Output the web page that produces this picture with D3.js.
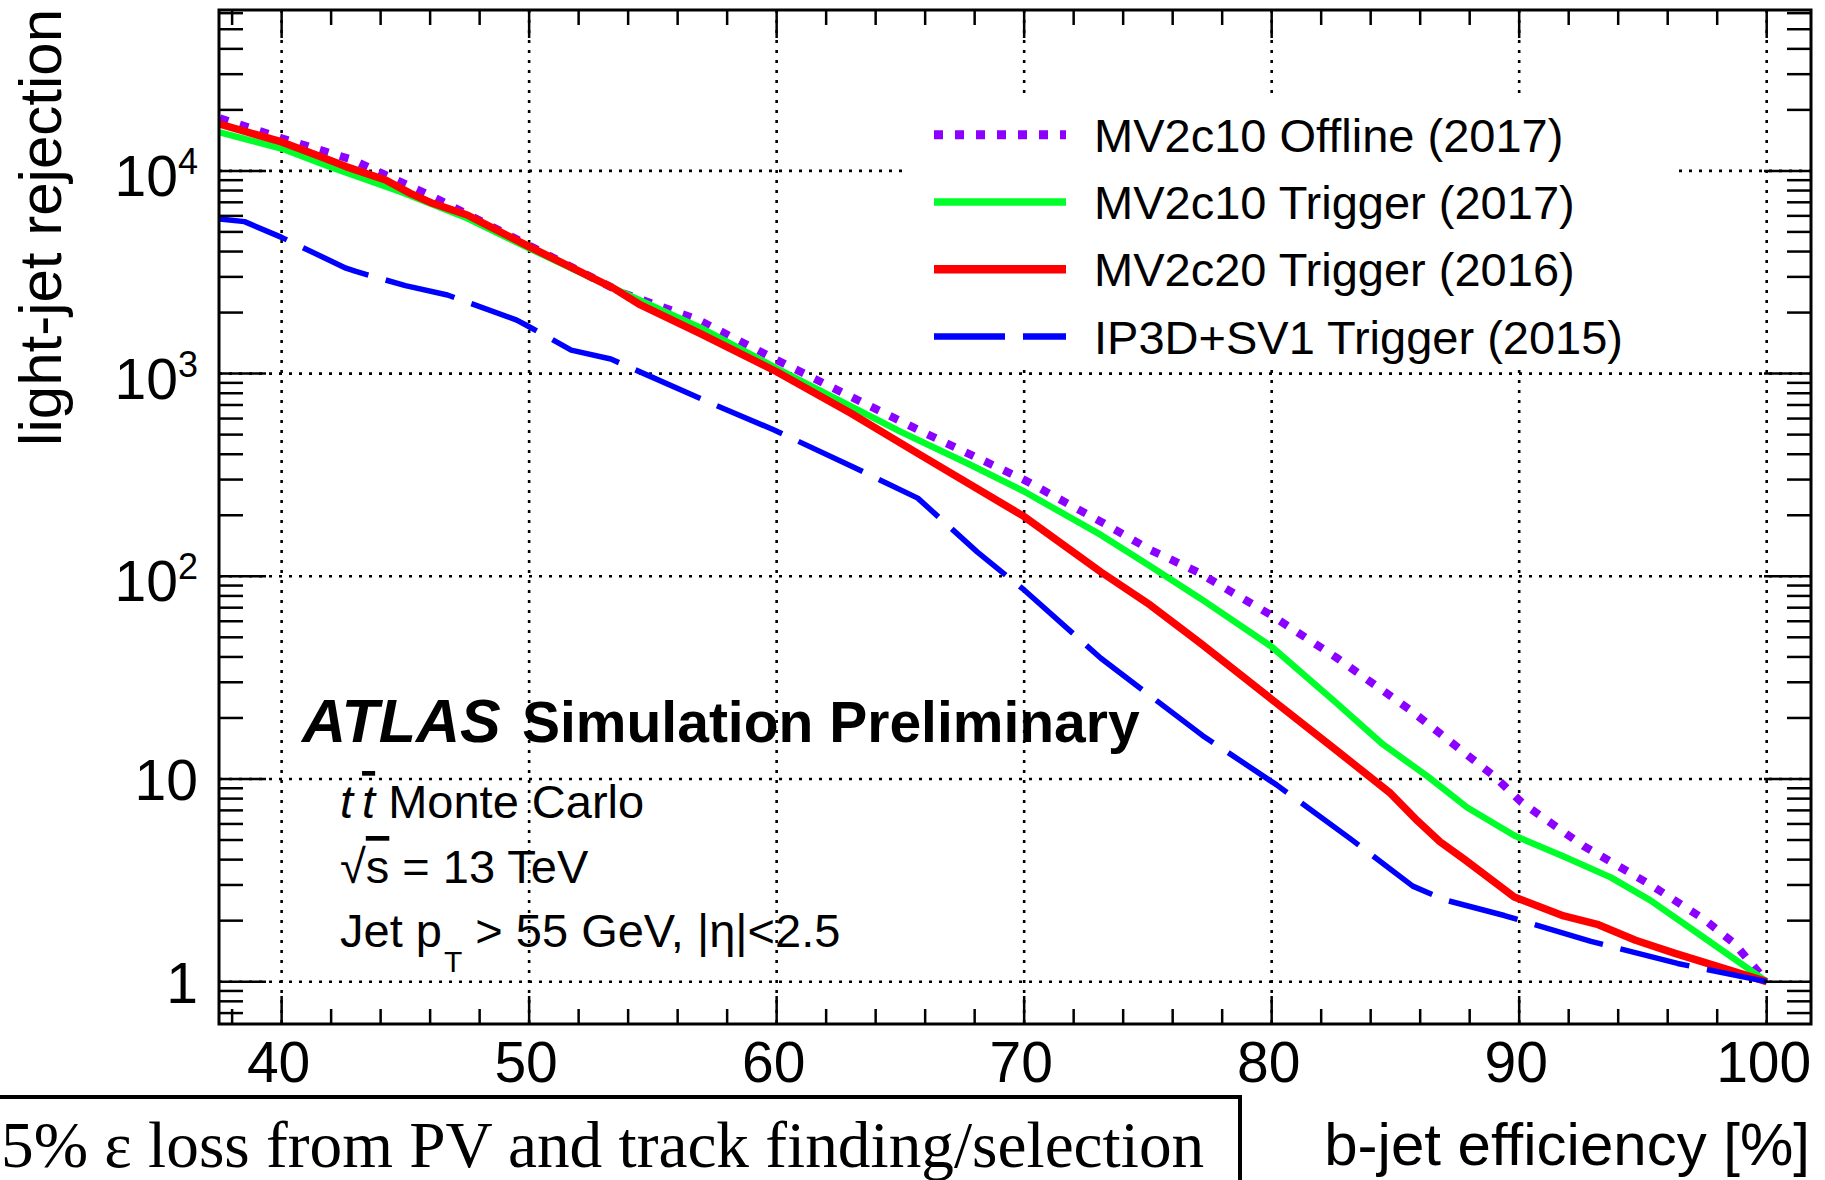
<!DOCTYPE html>
<html><head><meta charset="utf-8">
<script src="https://cdn.jsdelivr.net/npm/d3@7"></script>
<style>body{margin:0;background:#fff}svg{display:block}</style>
</head><body>
<svg id="chart" width="1825" height="1180"></svg>
<script>
// ---- data (b-jet efficiency [%], light-jet rejection) ----
const effOffline = [37.5,40,42.9,46.1,49.7,53.8,56.8,60,63,66,70,73.1,75.1,77,80,82.6,85.6,89,90.1,92.6,95.3,97.5,98.7,100];
const rejOffline = [18200,14500,11300,7460,4475,2490,1850,1167,769,508,299,186,135,105,64.1,39.8,21.9,10.3,7.66,4.67,3.01,2.02,1.54,1];

const effTrig17 = [37.5,40,42.1,44.8,47.5,50,53.4,56.9,60,65,67.7,70,73.1,75.1,77.1,80,82.6,84.5,86.3,87.9,89.8,91.8,93.7,95.3,97.4,100];
const rejTrig17 = [15500,12900,10300,7890,5840,4150,2640,1690,1062,517,361,262,160,112,78,44.9,23.8,14.8,10.3,7.23,5.26,4.14,3.27,2.52,1.67,1];

const effTrig16 = [37.5,40,41.4,42.6,44.2,45.2,46.1,47.5,48.3,50,51.5,53.4,54.5,56.9,60,63,65.7,70,73.1,75.1,77.1,80,82.6,84.8,85.9,86.8,87.8,89.8,91.8,93.2,94.7,96.3,100];
const rejTrig16 = [17000,13900,11970,10500,9020,7750,6920,6060,5400,4230,3440,2640,2180,1580,1021,637,404,197,105,72,47,24.7,13.9,8.5,6.2,4.9,4.0,2.62,2.11,1.91,1.60,1.38,1];

const effTrig15 = [37.5,38.5,40,42.6,43,45,46.7,49.5,50,51.7,53.3,56.6,57.3,59.9,63.2,65.7,68.1,70,73.1,75.1,77.2,80.2,83.2,85.7,87,89.4,92.9,96.4,100];
const rejTrig15 = [5790,5620,4700,3310,3190,2716,2443,1837,1703,1306,1180,784,719,527,341,243,132,85.6,39.4,25.7,16.4,9.35,5.05,2.96,2.53,2.12,1.58,1.23,1];

const seriesNames = ["MV2c10 Offline (2017)","MV2c10 Trigger (2017)","MV2c20 Trigger (2016)","IP3D+SV1 Trigger (2015)"];
const seriesColors = ["#8c00ff","#00ff2a","#ff0000","#0000ff"];

const xTickValues = [40,50,60,70,80,90,100];
const xTickLabels = ["40","50","60","70","80","90","100"];
const yTickValues = [1,10,100,1000,10000];
const yTickBase = ["1","10","10","10","10"];
const yTickExp = ["","","2","3","4"];

// ---- layout ----
const L = 219, R = 1811, T = 10, B = 1024;
const svg = d3.select("#chart");
const sans = "'Liberation Sans', Arial, Helvetica, sans-serif";
const serif = "'Liberation Serif', 'Times New Roman', serif";

const x = d3.scaleLinear().domain([37.47, 101.79]).range([L, R]);
const y = d3.scaleLog().domain([0.6183, 62200]).range([B, T]);

svg.append("rect").attr("width",1825).attr("height",1180).attr("fill","#fff");

// grid (dotted)
const grid = svg.append("g").attr("stroke","#000").attr("stroke-width",2.6).attr("stroke-dasharray","3 7");
grid.selectAll(".gx").data(xTickValues).join("line")
  .attr("x1",d=>x(d)).attr("x2",d=>x(d)).attr("y1",T).attr("y2",B);
grid.selectAll(".gy").data(yTickValues).join("line")
  .attr("x1",L).attr("x2",R).attr("y1",d=>y(d)).attr("y2",d=>y(d));

// clip
svg.append("clipPath").attr("id","clip").append("rect").attr("x",L).attr("y",T).attr("width",R-L).attr("height",B-T);

const line = d3.line().x(d=>x(d[0])).y(d=>y(d[1]));
const curves = [
  {e:effOffline, r:rejOffline, w:8,   dash:"9 12"},
  {e:effTrig17,  r:rejTrig17,  w:6.5, dash:null},
  {e:effTrig16,  r:rejTrig16,  w:7.5, dash:null},
  {e:effTrig15,  r:rejTrig15,  w:5.5, dash:"71 18"}
];
const gc = svg.append("g").attr("clip-path","url(#clip)");
curves.forEach((c,i)=>{
  const pts = c.e.map((v,j)=>[v,c.r[j]]);
  const p = gc.append("path").datum(pts).attr("d",line).attr("fill","none")
    .attr("stroke",seriesColors[i]).attr("stroke-width",c.w).attr("stroke-linejoin","round");
  if(c.dash) p.attr("stroke-dasharray",c.dash);
});

// legend (white box hides grid)
const lg = svg.append("g");
lg.append("rect").attr("x",902).attr("y",98).attr("width",770).attr("height",266).attr("fill","#fff");
const legY = [134.7,202,269.3,336.6];
seriesNames.forEach((n,i)=>{
  const c = curves[i];
  const ln = lg.append("line").attr("x1",934).attr("x2",1066).attr("y1",legY[i]).attr("y2",legY[i])
    .attr("stroke",seriesColors[i]).attr("stroke-width",c.w+1);
  if(c.dash) ln.attr("stroke-dasharray",c.dash);
  lg.append("text").attr("x",1094).attr("y",legY[i]+17).attr("font-family",sans).attr("font-size",47).text(n);
});

// frame
svg.append("rect").attr("x",L).attr("y",T).attr("width",R-L).attr("height",B-T)
  .attr("fill","none").attr("stroke","#000").attr("stroke-width",3);

// x ticks (bottom & top)
const xt = svg.append("g").attr("stroke","#000").attr("stroke-width",2.5);
const xMinor = d3.range(38,101.5,2);
xMinor.forEach(v=>{
  const major = v%10===0;
  const len = major?28:15;
  xt.append("line").attr("x1",x(v)).attr("x2",x(v)).attr("y1",B).attr("y2",B-len);
  xt.append("line").attr("x1",x(v)).attr("x2",x(v)).attr("y1",T).attr("y2",T+len);
});
// y ticks (left & right)
const yAll = [];
for(let p=-1;p<=4;p++){ for(let k=1;k<=9;k++){ const v=k*Math.pow(10,p); if(v>=0.62 && v<=62000) yAll.push([v,k===1]); } }
yAll.forEach(([v,major])=>{
  const len = major?47:24;
  xt.append("line").attr("x1",L).attr("x2",L+len).attr("y1",y(v)).attr("y2",y(v));
  xt.append("line").attr("x1",R).attr("x2",R-len).attr("y1",y(v)).attr("y2",y(v));
});

// x tick labels
svg.append("g").selectAll("text").data(xTickValues).join("text")
  .attr("x",d=>x(d)-3).attr("y",1082).attr("text-anchor","middle")
  .attr("font-family",sans).attr("font-size",57).text((d,i)=>xTickLabels[i]);

// y tick labels
yTickValues.forEach((v,i)=>{
  const t = svg.append("text").attr("x",198).attr("y",y(v)+(yTickExp[i]?25:21))
    .attr("text-anchor","end").attr("font-family",sans).attr("font-size",57);
  t.append("tspan").text(yTickBase[i]);
  if(yTickExp[i]) t.append("tspan").attr("dy",-22).attr("font-size",36).text(yTickExp[i]);
});

// axis titles
svg.append("text").attr("transform","translate(61,9) rotate(-90)").attr("text-anchor","end")
  .attr("font-family",sans).attr("font-size",60).text("light-jet rejection");
svg.append("text").attr("x",1810).attr("y",1165).attr("text-anchor","end")
  .attr("font-family",sans).attr("font-size",60).text("b-jet efficiency [%]");

// ATLAS label
svg.append("text").attr("x",302).attr("y",741.5).attr("font-family",sans).attr("font-size",61)
  .attr("font-weight","bold").attr("font-style","italic").text("ATLAS");
svg.append("text").attr("x",522).attr("y",741.5).attr("font-family",sans).attr("font-size",57)
  .attr("font-weight","bold").text("Simulation Preliminary");

const t1 = svg.append("text").attr("x",340).attr("y",818).attr("font-family",sans).attr("font-size",47);
t1.append("tspan").attr("font-style","italic").text("t");
t1.append("tspan").attr("dx",9).attr("font-style","italic").style("text-decoration","overline").text("t");
t1.append("tspan").text(" Monte Carlo");

const t2 = svg.append("text").attr("x",340).attr("y",883).attr("font-family",sans).attr("font-size",47);
t2.append("tspan").text("√");
t2.append("tspan").style("text-decoration","overline").text("s");
t2.append("tspan").text(" = 13 TeV");

const t3 = svg.append("text").attr("x",340).attr("y",947).attr("font-family",sans).attr("font-size",47);
t3.append("tspan").text("Jet p");
t3.append("tspan").attr("dx",2).attr("dy",25).attr("font-size",30).text("T");
t3.append("tspan").attr("dy",-25).text(" > 55 GeV, |η|<2.5");

// bottom overlay box
svg.append("rect").attr("x",-10).attr("y",1097).attr("width",1250).attr("height",200)
  .attr("fill","#fff").attr("stroke","#000").attr("stroke-width",4);
svg.append("text").attr("x",1).attr("y",1167).attr("text-anchor","start")
  .attr("font-family",serif).attr("font-size",65.3).text("5% ε loss from PV and track finding/selection");
</script>
</body></html>
